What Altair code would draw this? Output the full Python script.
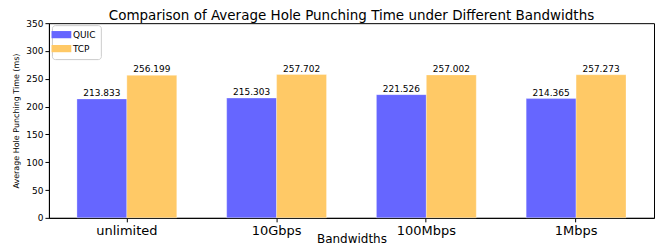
import altair as alt
import pandas as pd

categories = ["unlimited", "10Gbps", "100Mbps", "1Mbps"]
quic = [213.833, 215.303, 221.526, 214.365]
tcp = [256.199, 257.702, 257.002, 257.273]
protocols = ["QUIC", "TCP"]
colors = ["#6666FF", "#FFC966"]

rows = []
for c, q, t in zip(categories, quic, tcp):
    rows.append({"Bandwidth": c, "Protocol": "QUIC", "Time": q, "Label": f"{q:.3f}"})
    rows.append({"Bandwidth": c, "Protocol": "TCP", "Time": t, "Label": f"{t:.3f}"})
df = pd.DataFrame(rows)

FONT = "DejaVu Sans"

x = alt.X("Bandwidth:N", sort=categories,
          scale=alt.Scale(paddingInner=1/3, paddingOuter=0.187),
          axis=alt.Axis(title="Bandwidths", labelAngle=0, labelFontSize=13, labelColor="black",
                        labelFont=FONT, titleFont=FONT, titleFontSize=12, titleFontWeight="normal",
                        titleColor="black", titleY=25, titleBaseline="alphabetic",
                        tickSize=4, tickColor="black", domainColor="black", labelPadding=3,
                        tickBand="center"))
y = alt.Y("Time:Q", scale=alt.Scale(domain=[0, 350], nice=False),
          axis=alt.Axis(title="Average Hole Punching Time (ms)", values=list(range(0, 351, 50)),
                        grid=False, labelFontSize=9, labelFont=FONT, labelColor="black",
                        titleFont=FONT, titleFontSize=8, titleFontWeight="normal", titleColor="black",
                        tickSize=4, tickColor="black", domainColor="black", labelPadding=2,
                        titlePadding=5))

base = alt.Chart(df).encode(
    x=x,
    xOffset=alt.XOffset("Protocol:N", sort=protocols, scale=alt.Scale(paddingInner=0, paddingOuter=0)),
    y=y,
)

bars = base.mark_bar(stroke="white", strokeWidth=0.5, strokeOpacity=0.6).encode(
    color=alt.Color("Protocol:N", sort=protocols,
                    scale=alt.Scale(domain=protocols, range=colors),
                    legend=alt.Legend(title=None, orient="none", legendX=3, legendY=2,
                                      symbolType="M-2.2,-0.8H2.2V0.8H-2.2Z", symbolSize=81,
                                      symbolStrokeWidth=0, labelFont=FONT, labelFontSize=9,
                                      labelColor="black", strokeColor="#cccccc", padding=5,
                                      cornerRadius=3, rowPadding=4, fillColor="white",
                                      symbolOpacity=1, labelOffset=7))
)

labels = base.mark_text(baseline="bottom", dy=-1, fontSize=9, font=FONT, color="black").encode(
    text="Label:N"
)

chart = (bars + labels).properties(
    width=606, height=195,
    title=alt.Title("Comparison of Average Hole Punching Time under Different Bandwidths",
                    fontSize=13.5, font=FONT, fontWeight="normal", color="black", offset=4,
                    frame="group", dy=7),
    padding={"left": 41, "top": 15, "right": 3, "bottom": 28},
    autosize=alt.AutoSizeParams(type="none"),
).configure_view(stroke="black", strokeWidth=1).configure_axis(domainWidth=1)

chart.save("out.html", embed_options={"renderer": "svg", "actions": False})
